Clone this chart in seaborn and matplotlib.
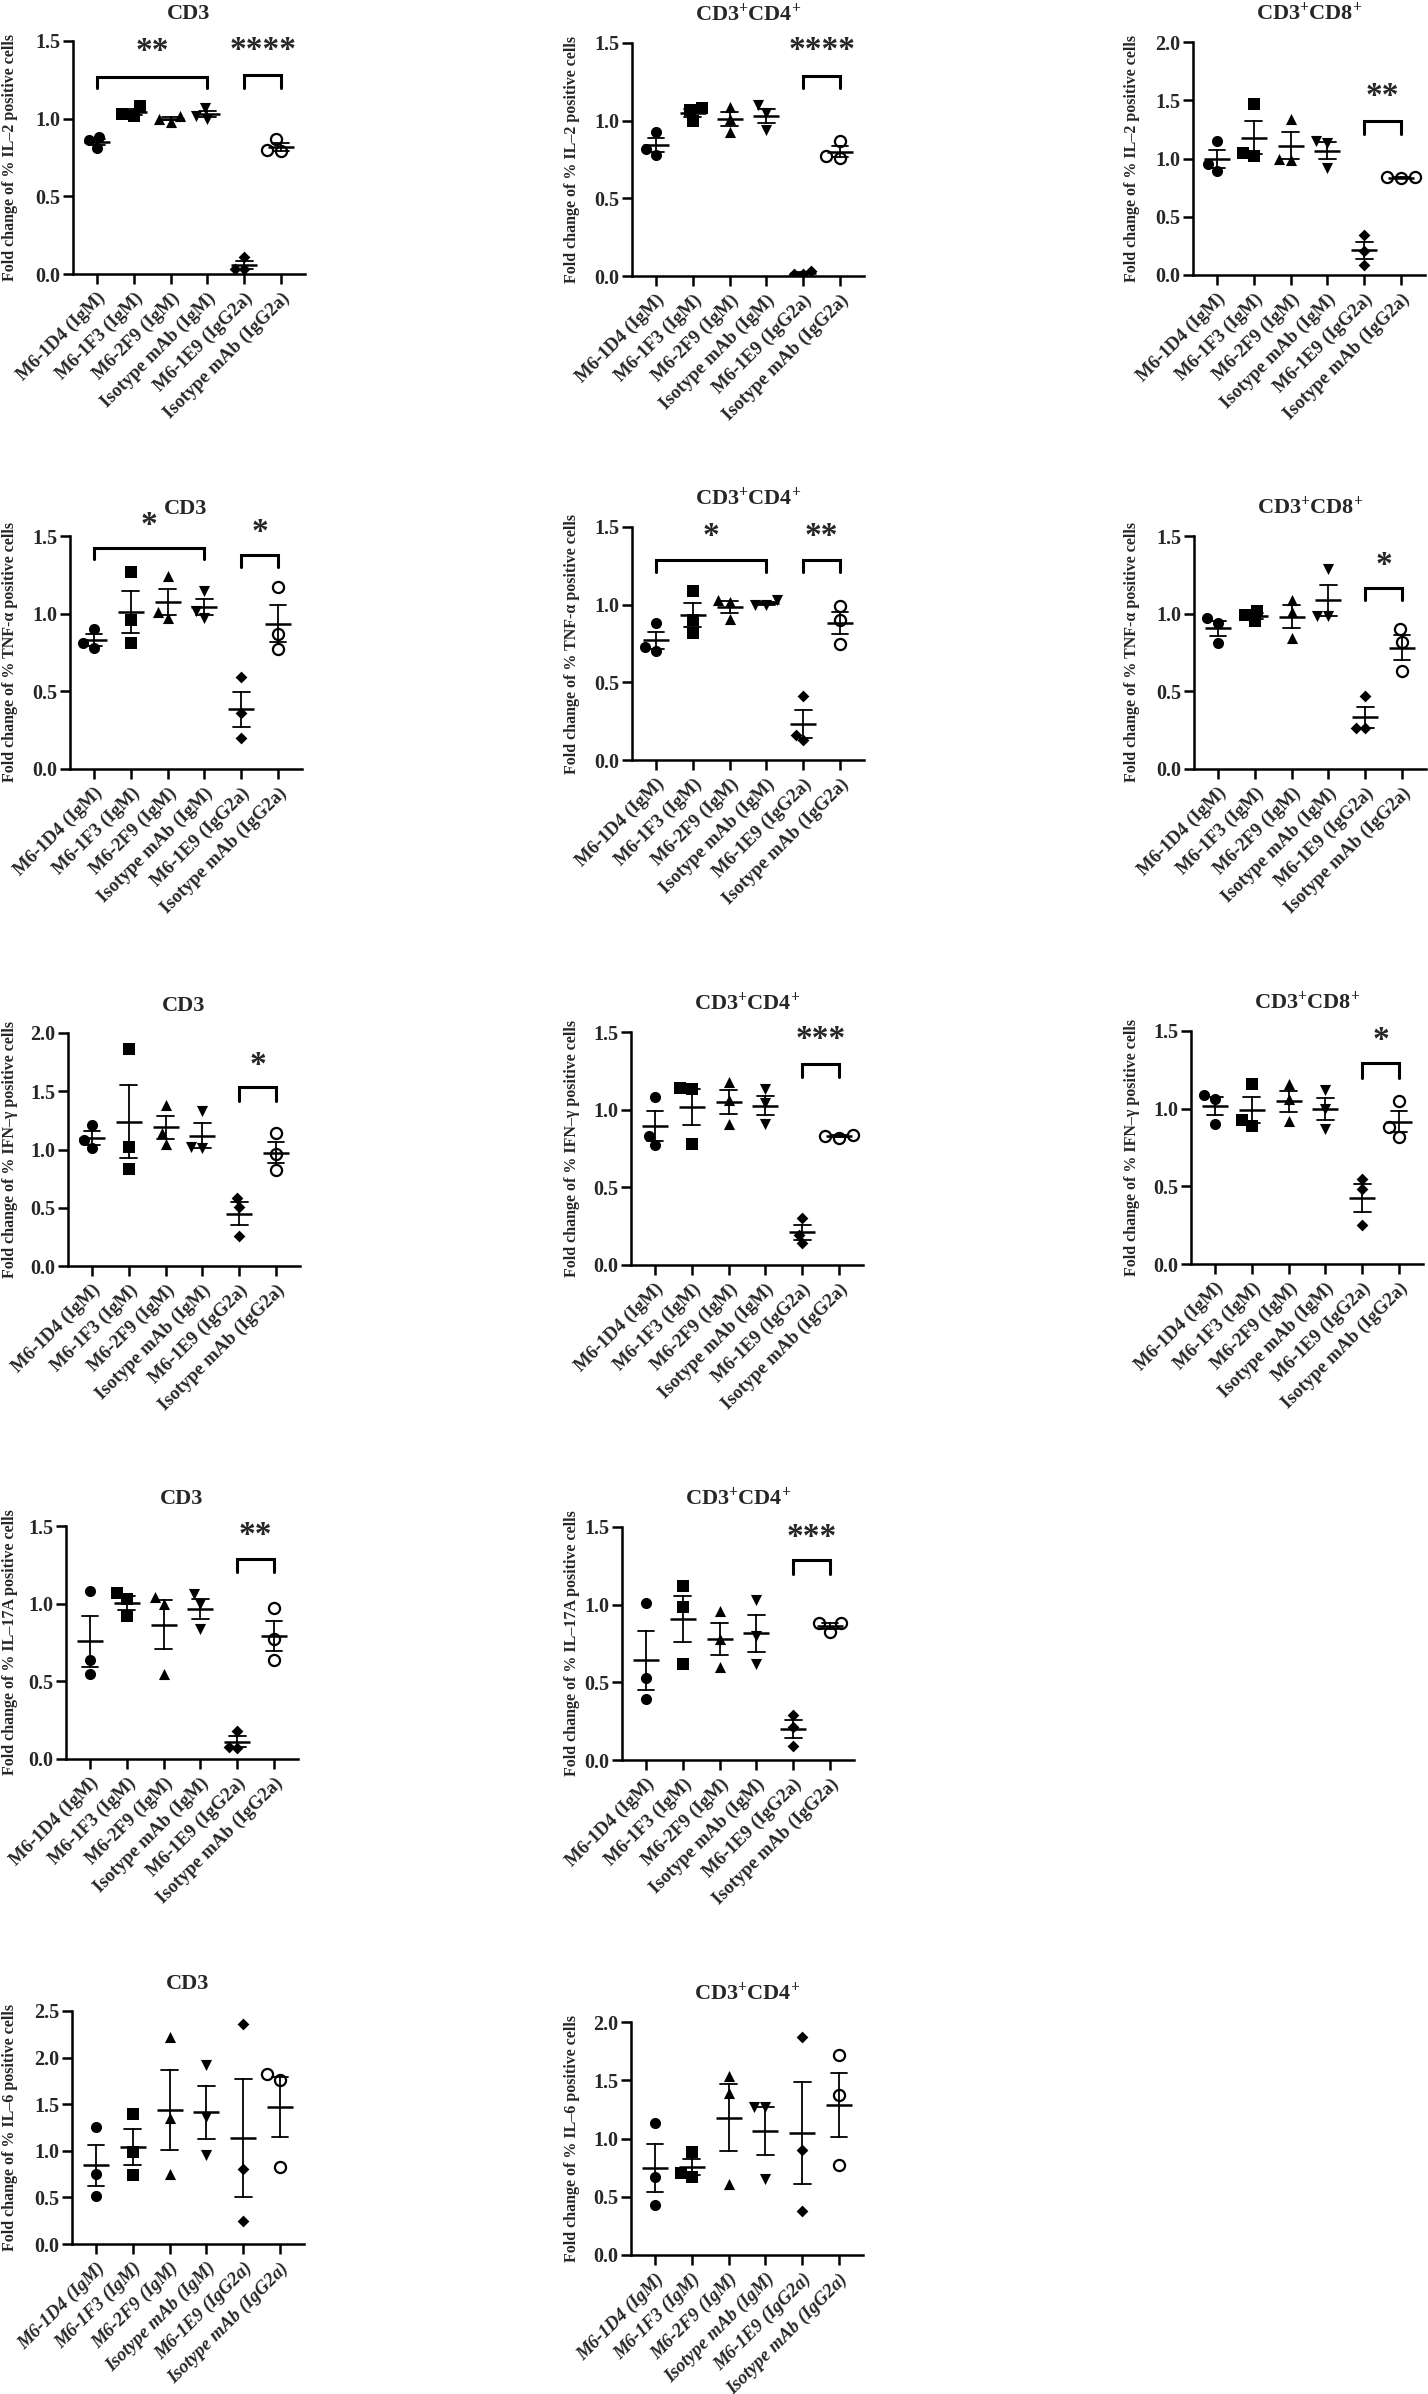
import numpy as np
import pandas as pd
import matplotlib
matplotlib.use("Agg")
import matplotlib.pyplot as plt
import seaborn as sns
import warnings
warnings.filterwarnings('ignore')

# groups on the x axis
groups = ['M6-1D4 (IgM)', 'M6-1F3 (IgM)', 'M6-2F9 (IgM)',
          'Isotype mAb (IgM)', 'M6-1E9 (IgG2a)', 'Isotype mAb (IgG2a)']
markers = ['o', 's', '^', 'v', 'D', 'o']
facecolors = ['black', 'black', 'black', 'black', 'black', 'white']
marker_sizes = [8, 8, 8, 8, 6, 8]

# fold change values (3 donors per group)
il2_cd3 = [[0.88, 0.81, 0.86], [1.08, 1.02, 1.03], [0.98, 1.02, 1.00],
           [1.07, 1.00, 1.02], [0.11, 0.03, 0.03], [0.87, 0.79, 0.80]]
il2_cd4 = [[0.93, 0.78, 0.82], [1.08, 1.07, 1.00], [1.09, 1.01, 0.93],
           [1.10, 1.05, 0.94], [0.03, 0.01, 0.01], [0.87, 0.76, 0.77]]
il2_cd8 = [[1.15, 0.89, 0.95], [1.47, 1.02, 1.05], [1.34, 0.99, 1.00],
           [1.15, 1.13, 0.92], [0.34, 0.21, 0.09], [0.83, 0.84, 0.84]]

tnf_cd3 = [[0.90, 0.78, 0.81], [1.27, 0.96, 0.81], [1.24, 0.97, 1.01],
           [1.145, 0.97, 1.02], [0.59, 0.36, 0.20], [1.17, 0.87, 0.77]]
tnf_cd4 = [[0.88, 0.70, 0.73], [1.085, 0.90, 0.82], [1.03, 1.02, 0.91],
           [1.03, 1.00, 1.00], [0.41, 0.13, 0.16], [0.99, 0.90, 0.75]]
tnf_cd8 = [[0.97, 0.94, 0.81], [1.02, 0.99, 0.95], [1.09, 1.01, 0.845],
           [1.285, 0.985, 0.985], [0.47, 0.265, 0.265], [0.90, 0.815, 0.63]]

ifn_cd3 = [[1.21, 1.01, 1.08], [1.86, 1.02, 0.835], [1.38, 1.14, 1.05],
           [1.33, 1.01, 1.02], [0.58, 0.51, 0.26], [1.14, 0.96, 0.82]]
ifn_cd4 = [[1.08, 0.83, 0.77], [1.14, 1.13, 0.78], [1.175, 1.06, 0.91],
           [1.13, 1.04, 0.91], [0.30, 0.19, 0.14], [0.82, 0.84, 0.83]]
ifn_cd8 = [[1.09, 1.065, 0.90], [1.16, 0.93, 0.89], [1.16, 1.06, 0.92],
           [1.12, 1.00, 0.87], [0.55, 0.48, 0.25], [1.05, 0.88, 0.82]]

il17_cd3 = [[1.08, 0.64, 0.55], [1.07, 1.03, 0.92], [1.045, 1.00, 0.55],
            [1.06, 1.00, 0.84], [0.18, 0.07, 0.08], [0.97, 0.77, 0.64]]
il17_cd4 = [[1.01, 0.525, 0.39], [1.12, 0.985, 0.62], [0.96, 0.78, 0.60],
            [1.03, 0.80, 0.62], [0.29, 0.21, 0.09], [0.825, 0.88, 0.88]]

il6_cd3 = [[1.26, 0.75, 0.52], [1.39, 0.99, 0.74], [2.22, 1.35, 0.75],
           [1.92, 1.365, 0.95], [2.36, 0.81, 0.25], [1.82, 1.76, 0.83]]
il6_cd4 = [[1.13, 0.67, 0.43], [0.885, 0.67, 0.705], [1.54, 1.39, 0.61],
           [1.27, 1.27, 0.65], [1.87, 0.90, 0.38], [1.72, 1.37, 0.77]]

ylabels = ['Fold change of % IL\u20132 positive cells',
           'Fold change of % TNF-\u03b1 positive cells',
           'Fold change of % IFN\u2013\u03b3 positive cells',
           'Fold change of % IL\u201317A positive cells',
           'Fold change of % IL\u20136 positive cells']
titles = ['CD3', r'CD3$^{+}$CD4$^{+}$', r'CD3$^{+}$CD8$^{+}$']

# (row, col, values, ymax, brackets [(x1, x2, top, leg, stars, text_y)])
panels = [
    (0, 0, il2_cd3, 1.5, [(0, 3, 1.27, 1.20, '**', 1.33), (4, 5, 1.28, 1.20, '****', 1.34)]),
    (0, 1, il2_cd4, 1.5, [(4, 5, 1.29, 1.21, '****', 1.35)]),
    (0, 2, il2_cd8, 2.0, [(4, 5, 1.32, 1.21, '**', 1.40)]),
    (1, 0, tnf_cd3, 1.5, [(0, 3, 1.425, 1.35, '*', 1.47), (4, 5, 1.375, 1.30, '*', 1.42)]),
    (1, 1, tnf_cd4, 1.5, [(0, 3, 1.29, 1.21, '*', 1.34), (4, 5, 1.29, 1.21, '**', 1.34)]),
    (1, 2, tnf_cd8, 1.5, [(4, 5, 1.167, 1.085, '*', 1.21)]),
    (2, 0, ifn_cd3, 2.0, [(4, 5, 1.536, 1.42, '*', 1.59)]),
    (2, 1, ifn_cd4, 1.5, [(4, 5, 1.297, 1.21, '***', 1.35)]),
    (2, 2, ifn_cd8, 1.5, [(4, 5, 1.294, 1.20, '*', 1.34)]),
    (3, 0, il17_cd3, 1.5, [(4, 5, 1.29, 1.205, '**', 1.34)]),
    (3, 1, il17_cd4, 1.5, [(4, 5, 1.286, 1.20, '***', 1.335)]),
    (4, 0, il6_cd3, 2.5, []),
    (4, 1, il6_cd4, 2.0, []),
]

# axes placement in pixels: left edge and y of the zero line
ax_left = [[73, 632, 1193], [70, 632, 1194], [68, 631, 1191], [66, 622, 0], [72, 631, 0]]
ax_base = [[274, 276, 275], [769, 760, 769], [1266, 1265, 1264], [1759, 1760, 0], [2244, 2255, 0]]
label_x = [10, 572, 1132]  # centre of the y label, pixels
W_PX, H_PX = 1428, 2394
AX_W, AX_H = 232, 233

sns.set_style('ticks')
plt.rcParams['font.family'] = ['Liberation Serif', 'DejaVu Serif']
plt.rcParams['font.weight'] = 'bold'
plt.rcParams['mathtext.fontset'] = 'custom'
plt.rcParams['mathtext.rm'] = 'Liberation Serif:bold'
plt.rcParams['mathtext.it'] = 'Liberation Serif:bold'
plt.rcParams['mathtext.bf'] = 'Liberation Serif:bold'

fig = plt.figure(figsize=(W_PX / 100, H_PX / 100), dpi=100)

for row, col, values, ymax, brackets in panels:
    left_px = ax_left[row][col]
    left = left_px / W_PX
    bottom = 1 - ax_base[row][col] / H_PX
    ax = fig.add_axes([left, bottom, AX_W / W_PX, AX_H / H_PX])

    df = pd.DataFrame({'group': np.repeat(groups, 3),
                       'value': np.concatenate(values)})

    for g, m, fc, ms in zip(groups, markers, facecolors, marker_sizes):
        sub = df[df['group'] == g]
        sns.swarmplot(data=sub, x='group', y='value', order=groups, marker=m,
                      color=fc, edgecolor='black',
                      linewidth=1.6 if fc == 'white' else 0,
                      size=ms, ax=ax, zorder=3)

    sns.pointplot(data=df, x='group', y='value', order=groups, errorbar='se',
                  capsize=0.45, color='black', linestyle='none', marker='_',
                  markersize=19, markeredgewidth=1.8,
                  err_kws={'linewidth': 1.3}, ax=ax, zorder=4)

    for x1, x2, top, leg, stars, ty in brackets:
        ax.plot([x1, x1, x2, x2], [leg, top, top, leg], color='black',
                lw=2.2, clip_on=False, solid_joinstyle='miter')
        ax.text((x1 + x2) / 2, ty, stars, ha='center', va='bottom',
                fontsize=24, fontweight='bold')

    ax.set_xlim(-0.65, 5.65)
    ax.set_ylim(0, ymax)
    ticks = np.arange(0, ymax + 0.01, 0.5)
    ax.set_yticks(ticks)
    ax.set_yticklabels([f'{t:.1f}' for t in ticks], fontsize=14.5, fontweight='bold')
    ax.set_xticks(range(len(groups)))
    ax.set_xticklabels(groups, rotation=45, ha='right', rotation_mode='anchor',
                       fontsize=13.5, fontweight='bold',
                       fontstyle='italic' if row == 4 else 'normal')
    ax.set_xlabel('')
    ax.set_ylabel(ylabels[row], fontsize=11.5, fontweight='bold', va='center')
    ax.yaxis.set_label_coords((label_x[col] - left_px) / AX_W, 0.5)
    ax.set_title(titles[col], fontsize=16, fontweight='bold', pad=16)

    sns.despine(ax=ax)
    for side in ['left', 'bottom']:
        ax.spines[side].set_linewidth(1.8)
        ax.spines[side].set_color('black')
    ax.tick_params(direction='out', length=7, width=1.8, color='black', pad=2)
    ax.tick_params(axis='x', pad=4)

fig.savefig('out.png', dpi=100, facecolor='white')
